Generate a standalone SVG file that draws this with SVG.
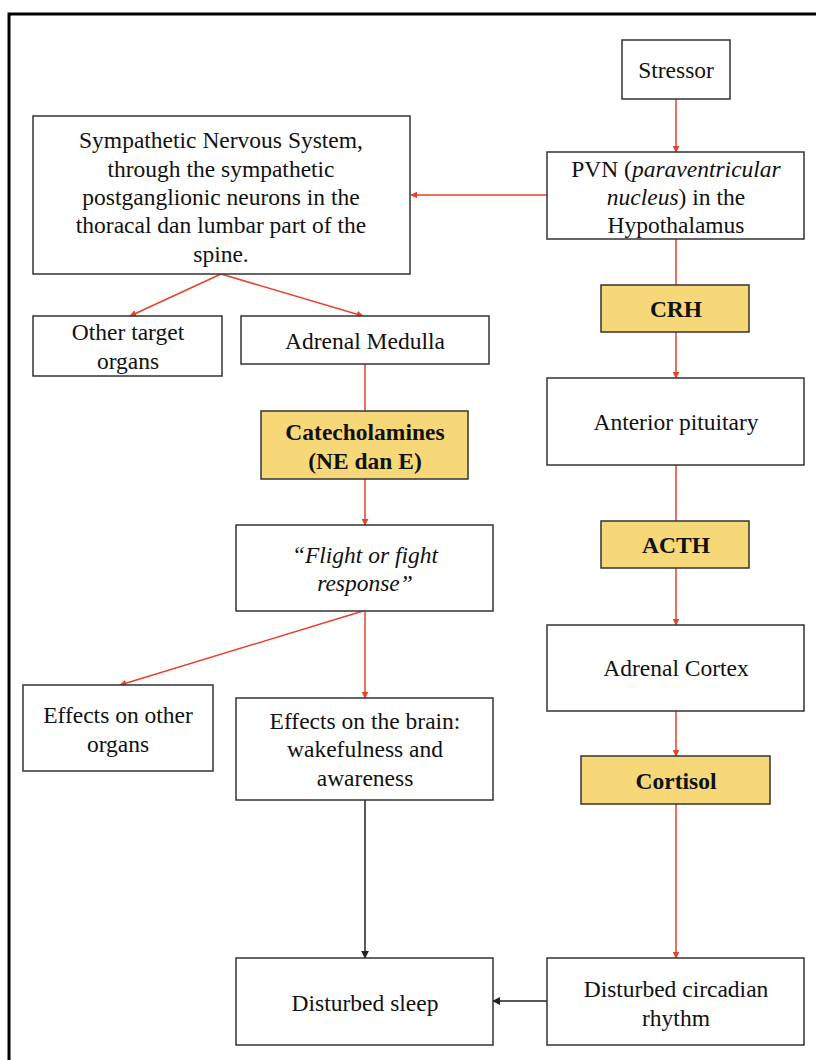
<svg xmlns="http://www.w3.org/2000/svg" width="816" height="1060" viewBox="0 0 816 1060">
<style>
.box{fill:#fff;stroke:#333;stroke-width:1.5}
.hor{fill:#f6d878;stroke:#333;stroke-width:1.5}
text{font-family:"Liberation Serif","Times New Roman",serif;font-size:23.5px;fill:#111;text-anchor:middle}
.b{font-weight:bold}
.red{stroke:#e8412c;stroke-width:1.5;fill:none}
.blk{stroke:#222;stroke-width:1.5;fill:none}
</style>
<defs>
<marker id="ar" viewBox="0 0 10 10" refX="9" refY="5" markerWidth="7" markerHeight="7" markerUnits="userSpaceOnUse" orient="auto"><path d="M0,0 L10,5 L0,10 z" fill="#e8412c"/></marker>
<marker id="ab" viewBox="0 0 10 10" refX="9" refY="5" markerWidth="8" markerHeight="8" markerUnits="userSpaceOnUse" orient="auto"><path d="M0,0 L10,5 L0,10 z" fill="#222"/></marker>
</defs>
<rect width="816" height="1060" fill="#fff"/>
<rect x="9" y="14" width="820" height="1060" fill="none" stroke="#000" stroke-width="3"/>
<g id="connectors">
<line class="red" x1="676" y1="99" x2="676" y2="152" marker-end="url(#ar)"/>
<line class="red" x1="547" y1="195" x2="411" y2="195" marker-end="url(#ar)"/>
<line class="red" x1="676" y1="239" x2="676" y2="285"/>
<line class="red" x1="676" y1="332" x2="676" y2="378" marker-end="url(#ar)"/>
<line class="red" x1="676" y1="465" x2="676" y2="521"/>
<line class="red" x1="676" y1="568" x2="676" y2="625" marker-end="url(#ar)"/>
<line class="red" x1="676" y1="711" x2="676" y2="756" marker-end="url(#ar)"/>
<line class="red" x1="676" y1="804" x2="676" y2="958" marker-end="url(#ar)"/>
<line class="red" x1="221" y1="274" x2="130" y2="316" marker-end="url(#ar)"/>
<line class="red" x1="221" y1="274" x2="363" y2="316" marker-end="url(#ar)"/>
<line class="red" x1="365" y1="364" x2="365" y2="411"/>
<line class="red" x1="365" y1="479" x2="365" y2="525" marker-end="url(#ar)"/>
<line class="red" x1="365" y1="611" x2="365" y2="698" marker-end="url(#ar)"/>
<line class="red" x1="363" y1="611" x2="120" y2="685" marker-end="url(#ar)"/>
<line class="blk" x1="365" y1="800" x2="365" y2="958" marker-end="url(#ab)"/>
<line class="blk" x1="547" y1="1001" x2="493" y2="1001" marker-end="url(#ab)"/>
</g>
<g id="stressor"><rect class="box" x="622" y="40" width="108" height="59"/><text x="676" y="78">Stressor</text></g>
<g id="pvn"><rect class="box" x="547" y="152" width="257" height="87"/>
<text x="676" y="177">PVN (<tspan font-style="italic">paraventricular</tspan></text>
<text x="676" y="205"><tspan font-style="italic">nucleus</tspan>) in the</text>
<text x="676" y="233">Hypothalamus</text></g>
<g id="sns"><rect class="box" x="33" y="116" width="377" height="158"/>
<text x="221" y="148">Sympathetic Nervous System,</text>
<text x="221" y="177">through the sympathetic</text>
<text x="221" y="205">postganglionic neurons in the</text>
<text x="221" y="233">thoracal dan lumbar part of the</text>
<text x="221" y="262">spine.</text></g>
<g id="other-target"><rect class="box" x="33" y="316" width="189" height="60"/>
<text x="128" y="340">Other target</text><text x="128" y="369">organs</text></g>
<g id="adrenal-medulla"><rect class="box" x="241" y="316" width="248" height="48"/>
<text x="365" y="349">Adrenal Medulla</text></g>
<g id="catecholamines"><rect class="hor" x="261" y="411" width="207" height="68"/>
<text class="b" x="365" y="440">Catecholamines</text><text class="b" x="365" y="469">(NE dan E)</text></g>
<g id="flight"><rect class="box" x="236" y="525" width="257" height="86"/>
<text x="365" y="563" font-style="italic">“Flight or fight</text><text x="365" y="591" font-style="italic">response”</text></g>
<g id="effects-other"><rect class="box" x="23" y="685" width="190" height="86"/>
<text x="118" y="723">Effects on other</text><text x="118" y="752">organs</text></g>
<g id="effects-brain"><rect class="box" x="236" y="698" width="257" height="102"/>
<text x="365" y="729">Effects on the brain:</text><text x="365" y="757">wakefulness and</text><text x="365" y="786">awareness</text></g>
<g id="disturbed-sleep"><rect class="box" x="236" y="958" width="257" height="87"/>
<text x="365" y="1011">Disturbed sleep</text></g>
<g id="crh"><rect class="hor" x="601" y="285" width="148" height="47"/><text class="b" x="676" y="317">CRH</text></g>
<g id="anterior-pituitary"><rect class="box" x="547" y="378" width="257" height="87"/><text x="676" y="430">Anterior pituitary</text></g>
<g id="acth"><rect class="hor" x="601" y="521" width="148" height="47"/><text class="b" x="676" y="553">ACTH</text></g>
<g id="adrenal-cortex"><rect class="box" x="547" y="625" width="257" height="86"/><text x="676" y="676">Adrenal Cortex</text></g>
<g id="cortisol"><rect class="hor" x="581" y="756" width="189" height="48"/><text class="b" x="676" y="789">Cortisol</text></g>
<g id="circadian"><rect class="box" x="547" y="958" width="257" height="87"/>
<text x="676" y="997">Disturbed circadian</text><text x="676" y="1026">rhythm</text></g>
</svg>
